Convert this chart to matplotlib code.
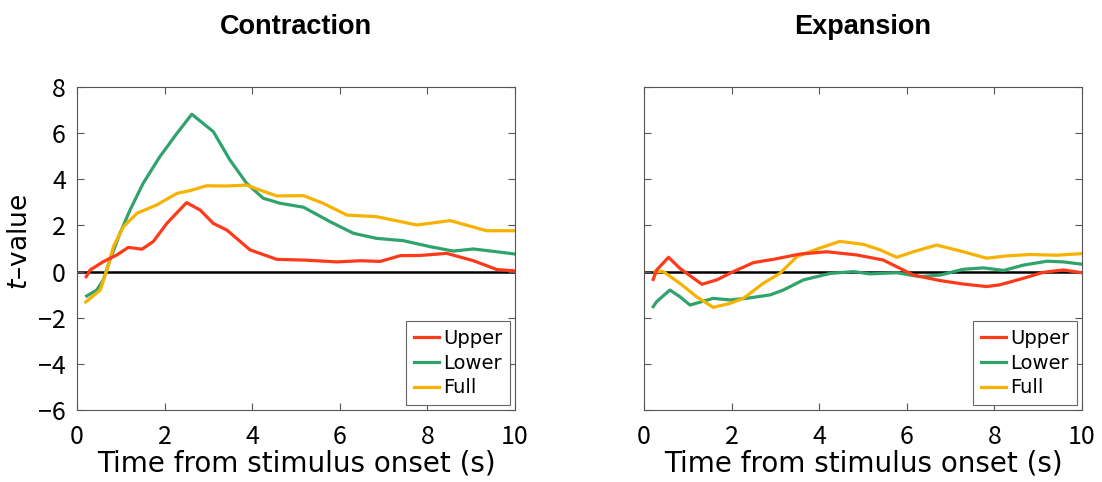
import matplotlib.pyplot as plt

plt.rcParams['font.family'] = ['Noto Sans CJK JP', 'DejaVu Sans']
plt.rcParams['mathtext.fontset'] = 'custom'
plt.rcParams['mathtext.it'] = 'DejaVu Sans:italic'
plt.rcParams['mathtext.rm'] = 'DejaVu Sans'

# contraction curves (time in s, t-value)
con_green_t = [0.22, 0.45, 0.6, 0.75, 0.98, 1.21, 1.51, 1.89, 2.28, 2.62, 3.11, 3.49, 3.87, 4.25, 4.64, 5.17, 5.78, 6.31, 6.84, 7.45, 8.06, 8.59, 9.05, 9.58, 10.0]
con_green_v = [-1.06, -0.8, -0.36, 0.5, 1.66, 2.67, 3.83, 4.98, 5.99, 6.82, 6.07, 4.84, 3.83, 3.18, 2.96, 2.79, 2.16, 1.66, 1.44, 1.34, 1.08, 0.89, 0.98, 0.86, 0.76]
con_orange_t = [0.2, 0.53, 0.68, 0.83, 1.06, 1.37, 1.82, 2.28, 2.58, 2.96, 3.42, 3.87, 4.18, 4.56, 5.17, 5.62, 6.16, 6.84, 7.76, 8.52, 9.35, 10.0]
con_orange_v = [-1.32, -0.8, 0.07, 1.08, 1.95, 2.53, 2.89, 3.39, 3.51, 3.72, 3.71, 3.75, 3.53, 3.28, 3.29, 2.96, 2.45, 2.38, 2.02, 2.21, 1.77, 1.77]
con_red_t = [0.21, 0.3, 0.6, 0.91, 1.17, 1.48, 1.74, 2.05, 2.5, 2.81, 3.11, 3.42, 3.95, 4.56, 5.17, 5.94, 6.47, 6.92, 7.38, 7.84, 8.44, 9.05, 9.58, 10.0]
con_red_v = [-0.22, 0.07, 0.43, 0.72, 1.05, 0.97, 1.3, 2.09, 2.99, 2.67, 2.09, 1.8, 0.94, 0.53, 0.5, 0.42, 0.47, 0.44, 0.69, 0.7, 0.79, 0.47, 0.09, 0.03]

# expansion curves
exp_red_t = [0.21, 0.29, 0.56, 0.82, 1.32, 1.66, 2.04, 2.5, 2.95, 3.56, 4.17, 4.86, 5.46, 5.77, 6.15, 6.76, 7.29, 7.82, 8.13, 8.66, 9.12, 9.57, 10.0]
exp_red_v = [-0.34, 0.07, 0.62, 0.14, -0.55, -0.36, 0.0, 0.39, 0.53, 0.76, 0.86, 0.72, 0.5, 0.21, -0.15, -0.39, -0.54, -0.65, -0.57, -0.29, -0.03, 0.07, -0.05]
exp_orange_t = [0.25, 0.44, 0.82, 1.2, 1.58, 1.96, 2.27, 2.72, 3.1, 3.49, 3.94, 4.47, 5.01, 5.39, 5.77, 6.15, 6.68, 7.29, 7.82, 8.28, 8.81, 9.42, 10.0]
exp_orange_v = [0.0, 0.0, -0.51, -1.09, -1.55, -1.38, -1.16, -0.51, -0.08, 0.65, 0.97, 1.31, 1.18, 0.94, 0.62, 0.86, 1.15, 0.86, 0.58, 0.68, 0.74, 0.71, 0.78]
exp_green_t = [0.21, 0.29, 0.59, 0.82, 1.05, 1.58, 1.96, 2.34, 2.88, 3.18, 3.64, 4.25, 4.78, 5.16, 5.77, 6.3, 6.76, 7.29, 7.75, 8.21, 8.66, 9.2, 9.57, 10.0]
exp_green_v = [-1.52, -1.3, -0.8, -1.09, -1.45, -1.16, -1.23, -1.16, -1.01, -0.8, -0.36, -0.08, 0.0, -0.1, -0.05, -0.22, -0.15, 0.1, 0.16, 0.05, 0.28, 0.45, 0.42, 0.32]

red = '#FF3A1A'
green = '#2FA36B'
orange = '#F7B200'
spine_col = '#555555'

fig = plt.figure(figsize=(11.02, 4.82), dpi=100)
ax1 = fig.add_axes([0.0699, 0.1494, 0.3975, 0.670])
ax2 = fig.add_axes([0.5844, 0.1494, 0.3975, 0.670])

panels = [
    (ax1, "Contraction", (con_red_t, con_red_v), (con_green_t, con_green_v), (con_orange_t, con_orange_v)),
    (ax2, "Expansion", (exp_red_t, exp_red_v), (exp_green_t, exp_green_v), (exp_orange_t, exp_orange_v)),
]

for ax, title, r, g, o in panels:
    ax.axhline(0, color='black', lw=1.8, zorder=1)
    ax.plot(r[0], r[1], color=red, lw=2.3, label='Upper', zorder=3)
    ax.plot(g[0], g[1], color=green, lw=2.3, label='Lower', zorder=2)
    ax.plot(o[0], o[1], color=orange, lw=2.3, label='Full', zorder=2)
    ax.set_xlim(0, 10)
    ax.set_ylim(-6, 8)
    ax.set_xticks([0, 2, 4, 6, 8, 10])
    ax.set_yticks([-6, -4, -2, 0, 2, 4, 6, 8])
    ax.tick_params(direction='in', top=True, right=True, labelsize=18, color=spine_col, length=5)
    ax.tick_params(axis='x', pad=10)
    ax.tick_params(axis='y', pad=8)
    for s in ax.spines.values():
        s.set_color(spine_col)
        s.set_linewidth(0.8)
    ax.set_xlabel("Time from stimulus onset (s)", fontsize=20, labelpad=0, family='DejaVu Sans')
    ax.set_title(title, fontsize=19.5, fontweight='bold', pad=38, family='Liberation Sans')
    leg = ax.legend(loc='lower right', prop={'family': 'DejaVu Sans', 'size': 14},
                    handlelength=1.3, handletextpad=0.2,
                    labelspacing=0.3, borderpad=0.4, fancybox=False, framealpha=1,
                    edgecolor='#666666', borderaxespad=0.25)
    leg.get_frame().set_linewidth(0.8)

ax1.set_ylabel("$t$–value", fontsize=19, family='DejaVu Sans')
ax1.yaxis.set_label_coords(-0.10, 0.52)
ax2.tick_params(labelleft=False)

plt.savefig("out.png")
